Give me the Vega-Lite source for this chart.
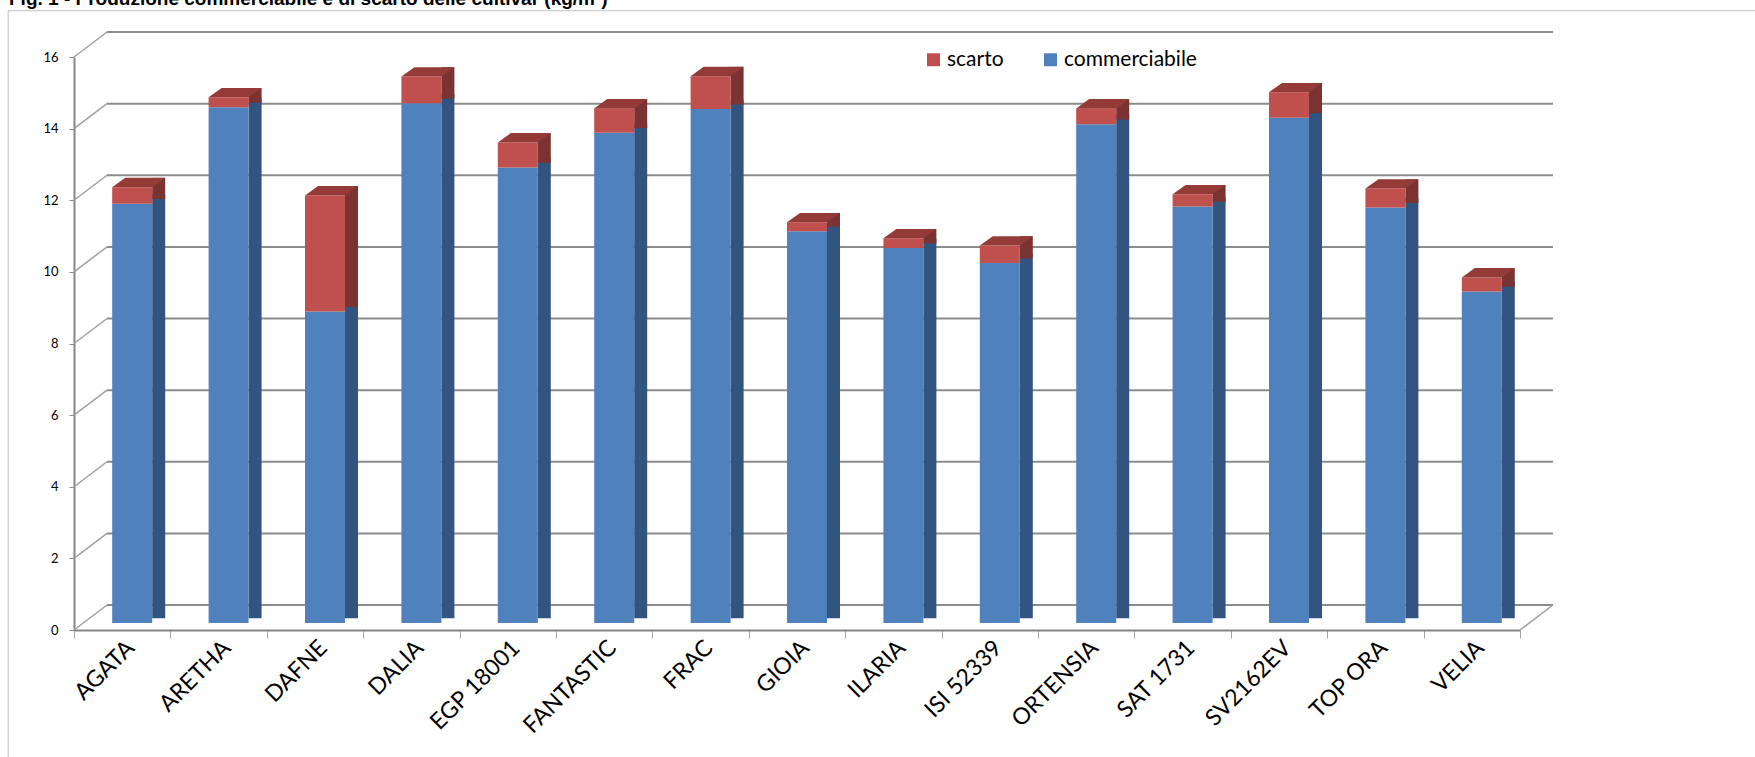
{
  "$schema": "https://vega.github.io/schema/vega-lite/v6.json",
  "width": 1446,
  "height": 573,
  "autosize": {"type": "none"},
  "padding": {"left": 74, "top": 57, "right": 235, "bottom": 127},
  "background": "white",
  "title": {
    "text": "Fig. 1 - Produzione commerciabile e di scarto delle cultivar (kg/m²)",
    "anchor": "start",
    "frame": "group",
    "orient": "top",
    "font": "Liberation Sans",
    "fontSize": 19,
    "fontWeight": "bold",
    "color": "#000000",
    "baseline": "alphabetic",
    "offset": 2,
    "dy": 17.5,
    "dx": -65
  },
  "config": {"view": {"stroke": null}, "font": "Lato"},
  "datasets": {
    "bars": [
      {"cultivar": "AGATA", "tipo": "commerciabile", "valore": 11.71},
      {"cultivar": "ARETHA", "tipo": "commerciabile", "valore": 14.40},
      {"cultivar": "DAFNE", "tipo": "commerciabile", "valore": 8.70},
      {"cultivar": "DALIA", "tipo": "commerciabile", "valore": 14.51},
      {"cultivar": "EGP 18001", "tipo": "commerciabile", "valore": 12.72},
      {"cultivar": "FANTASTIC", "tipo": "commerciabile", "valore": 13.69},
      {"cultivar": "FRAC", "tipo": "commerciabile", "valore": 14.35},
      {"cultivar": "GIOIA", "tipo": "commerciabile", "valore": 10.94},
      {"cultivar": "ILARIA", "tipo": "commerciabile", "valore": 10.47},
      {"cultivar": "ISI 52339", "tipo": "commerciabile", "valore": 10.05},
      {"cultivar": "ORTENSIA", "tipo": "commerciabile", "valore": 13.93},
      {"cultivar": "SAT 1731", "tipo": "commerciabile", "valore": 11.63},
      {"cultivar": "SV2162EV", "tipo": "commerciabile", "valore": 14.11},
      {"cultivar": "TOP ORA", "tipo": "commerciabile", "valore": 11.60},
      {"cultivar": "VELIA", "tipo": "commerciabile", "valore": 9.26},
      {"cultivar": "AGATA", "tipo": "scarto", "valore": 0.46},
      {"cultivar": "ARETHA", "tipo": "scarto", "valore": 0.28},
      {"cultivar": "DAFNE", "tipo": "scarto", "valore": 3.24},
      {"cultivar": "DALIA", "tipo": "scarto", "valore": 0.75},
      {"cultivar": "EGP 18001", "tipo": "scarto", "valore": 0.70},
      {"cultivar": "FANTASTIC", "tipo": "scarto", "valore": 0.68},
      {"cultivar": "FRAC", "tipo": "scarto", "valore": 0.92},
      {"cultivar": "GIOIA", "tipo": "scarto", "valore": 0.25},
      {"cultivar": "ILARIA", "tipo": "scarto", "valore": 0.27},
      {"cultivar": "ISI 52339", "tipo": "scarto", "valore": 0.49},
      {"cultivar": "ORTENSIA", "tipo": "scarto", "valore": 0.44},
      {"cultivar": "SAT 1731", "tipo": "scarto", "valore": 0.34},
      {"cultivar": "SV2162EV", "tipo": "scarto", "valore": 0.71},
      {"cultivar": "TOP ORA", "tipo": "scarto", "valore": 0.53},
      {"cultivar": "VELIA", "tipo": "scarto", "valore": 0.39}
    ],
    "grid": [
      {"v": 0}, {"v": 2}, {"v": 4}, {"v": 6}, {"v": 8},
      {"v": 10}, {"v": 12}, {"v": 14}, {"v": 16}
    ]
  },
  "layer": [
    {
      "data": {"name": "grid"},
      "mark": {"type": "point", "shape": "M -1 0 L 1 0", "size": 2090916, "filled": false, "stroke": "#8c8c8c", "strokeWidth": 2, "opacity": 1, "xOffset": 33, "yOffset": -25},
      "encoding": {
        "y": {
          "field": "v",
          "type": "quantitative",
          "scale": {"domain": [0, 16], "nice": false, "zero": true},
          "axis": {
            "values": [0, 2, 4, 6, 8, 10, 12, 14, 16],
            "title": null,
            "grid": false,
            "domainColor": "#868686",
            "domainWidth": 2,
            "tickColor": "#868686",
            "tickSize": 5,
            "tickWidth": 1,
            "labelFontSize": 13,
            "labelFont": "Lato",
            "labelColor": "#000000",
            "labelPadding": 11
          }
        }
      }
    },
    {
      "data": {"name": "grid"},
      "transform": [{"filter": "datum.v == 16"}],
      "mark": {"type": "point", "shape": "M -1 0 L 1 0", "size": 3052009, "filled": false, "stroke": "#bfbfbf", "strokeWidth": 1, "opacity": 1, "xOffset": 84.5, "yOffset": -46.3},
      "encoding": {"y": {"field": "v", "type": "quantitative"}}
    },
    {
      "data": {"name": "grid"},
      "transform": [{"filter": "datum.v == 16"}],
      "mark": {"type": "point", "shape": "M 0 -1 L 0 1", "size": 562500, "filled": false, "stroke": "#bfbfbf", "strokeWidth": 1, "opacity": 1, "xOffset": -114, "yOffset": 42.5},
      "encoding": {"x": {"datum": "AGATA", "type": "nominal"}}
    },
    {
      "data": {"name": "grid"},
      "mark": {"type": "point", "shape": "M -1 0.7576 L 1 -0.7576", "size": 1089, "filled": false, "stroke": "#a0a0a0", "strokeWidth": 1.5, "opacity": 1, "xOffset": -31.7, "yOffset": -12.5},
      "encoding": {
        "x": {"datum": "AGATA", "type": "nominal"},
        "y": {"field": "v", "type": "quantitative"}
      }
    },
    {
      "data": {"name": "grid"},
      "transform": [{"filter": "datum.v == 0"}],
      "mark": {"type": "point", "shape": "M -1 0.7576 L 1 -0.7576", "size": 1089, "filled": false, "stroke": "#a0a0a0", "strokeWidth": 1.5, "opacity": 1, "xOffset": 64.7, "yOffset": -12.5},
      "encoding": {
        "x": {"datum": "VELIA", "type": "nominal"},
        "y": {"field": "v", "type": "quantitative"}
      }
    },
    {
      "data": {"name": "bars"},
      "transform": [
        {"stack": "valore", "groupby": ["cultivar"], "sort": [{"field": "tipo", "order": "ascending"}], "as": ["v0", "v1"]},
        {"filter": "datum.tipo == 'commerciabile'"}
      ],
      "mark": {"type": "bar", "width": 13, "color": "#325480", "xOffset": 36.5, "x2Offset": 36.5, "yOffset": -16.3, "y2Offset": -11.65},
      "encoding": {
        "x": {
          "field": "cultivar",
          "type": "nominal",
          "scale": {
            "domain": ["AGATA", "ARETHA", "DAFNE", "DALIA", "EGP 18001", "FANTASTIC", "FRAC", "GIOIA", "ILARIA", "ISI 52339", "ORTENSIA", "SAT 1731", "SV2162EV", "TOP ORA", "VELIA"],
            "paddingInner": 0,
            "paddingOuter": 0
          },
          "axis": {
            "title": null,
            "labelAngle": -45,
            "labelAlign": "right",
            "labelBaseline": "middle",
            "labelFontSize": 23,
            "labelFont": "Lato",
            "labelColor": "#000000",
            "labelOffset": 8,
            "labelPadding": 6,
            "tickBand": "extent",
            "tickSize": 8,
            "tickColor": "#a6a6a6",
            "tickWidth": 1,
            "domainColor": "#868686",
            "domainWidth": 2,
            "grid": false
          }
        },
        "y": {"field": "v1", "type": "quantitative"},
        "y2": {"field": "v0"}
      }
    },
    {
      "data": {"name": "bars"},
      "transform": [
        {"stack": "valore", "groupby": ["cultivar"], "sort": [{"field": "tipo", "order": "ascending"}], "as": ["v0", "v1"]},
        {"filter": "datum.tipo == 'scarto'"}
      ],
      "mark": {"type": "bar", "width": 13, "color": "#7b3331", "xOffset": 36.5, "x2Offset": 36.5, "yOffset": -16.3, "y2Offset": -11.65},
      "encoding": {
        "x": {"field": "cultivar", "type": "nominal"},
        "y": {"field": "v1", "type": "quantitative"},
        "y2": {"field": "v0"}
      }
    },
    {
      "data": {"name": "bars"},
      "transform": [{"stack": "valore", "groupby": ["cultivar"], "sort": [{"field": "tipo", "order": "ascending"}], "as": ["v0", "v1"]}],
      "mark": {"type": "bar", "width": 40, "xOffset": 10, "x2Offset": 10, "yOffset": -7, "y2Offset": -7},
      "encoding": {
        "x": {"field": "cultivar", "type": "nominal"},
        "y": {"field": "v1", "type": "quantitative"},
        "y2": {"field": "v0"},
        "color": {
          "field": "tipo",
          "type": "nominal",
          "scale": {"domain": ["scarto", "commerciabile"], "range": ["#c0504d", "#4f81bd"]},
          "legend": {
            "orient": "none",
            "legendX": 849,
            "legendY": -8,
            "direction": "horizontal",
            "title": null,
            "symbolType": "square",
            "symbolSize": 169,
            "symbolStrokeWidth": 0,
            "labelFontSize": 21,
            "labelFont": "Lato",
            "labelColor": "#000000",
            "labelOffset": 3,
            "columnPadding": 36
          }
        }
      }
    },
    {
      "data": {"name": "bars"},
      "transform": [
        {"stack": "valore", "groupby": ["cultivar"], "sort": [{"field": "tipo", "order": "ascending"}], "as": ["v0", "v1"]},
        {"filter": "datum.tipo == 'scarto'"}
      ],
      "mark": {"type": "point", "shape": "M -1 0.1755 L 0.5094 0.1755 L 1 -0.1755 L -0.5094 -0.1755 Z", "size": 2809, "filled": true, "color": "#943b38", "opacity": 1, "strokeWidth": 0, "xOffset": 16.5, "yOffset": -11.65},
      "encoding": {
        "x": {"field": "cultivar", "type": "nominal"},
        "y": {"field": "v1", "type": "quantitative"}
      }
    }
  ]
}
